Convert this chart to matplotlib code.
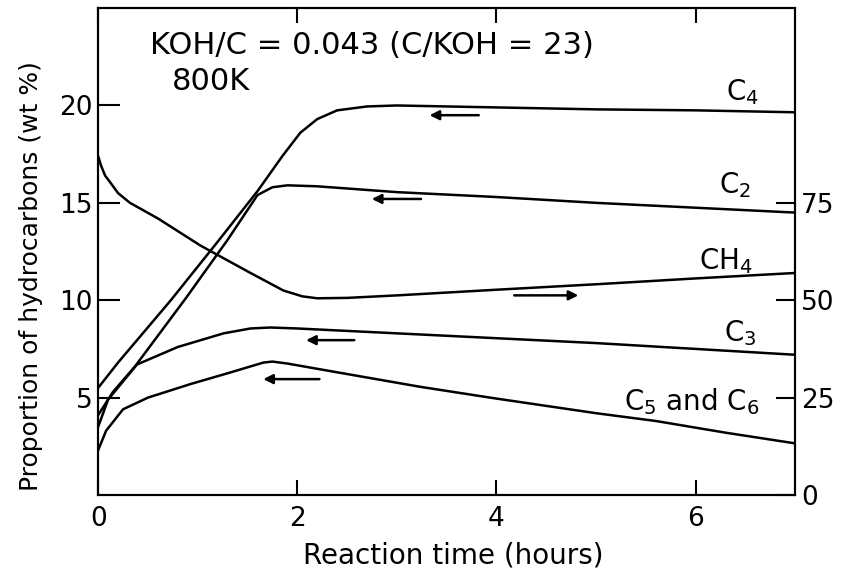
import matplotlib
matplotlib.use('Agg')
import matplotlib.pyplot as plt

# left axis in wt %, CH4 on the right axis
c4_x = [0, 0.2, 0.73, 1.2, 1.6, 1.85, 2.03, 2.2, 2.4, 2.7, 3.0, 4.0, 5.0, 6.0, 7.0]
c4_y = [5.5, 6.8, 10.0, 13.0, 15.6, 17.4, 18.6, 19.3, 19.75, 19.95, 20.0, 19.9, 19.8, 19.75, 19.65]

c2_x = [0, 0.15, 0.37, 0.88, 1.3, 1.6, 1.75, 1.9, 2.2, 3.0, 4.0, 5.0, 6.0, 7.0]
c2_y = [4.1, 5.3, 6.6, 10.1, 13.1, 15.4, 15.8, 15.9, 15.85, 15.55, 15.3, 15.0, 14.75, 14.5]

ch4_x = [0, 0.03, 0.07, 0.12, 0.2, 0.32, 0.6, 1.03, 1.53, 1.86, 2.05, 2.2, 2.5, 3.04, 4, 5, 6, 7]
ch4_y = [87, 84.5, 82, 80.3, 77.5, 75, 71, 64, 57, 52.5, 51, 50.5, 50.6, 51.3, 52.7, 54.1, 55.6, 57]

c3_x = [0, 0.1, 0.39, 0.8, 1.26, 1.53, 1.73, 2.0, 3.2, 4, 5, 6, 7]
c3_y = [3.5, 4.9, 6.7, 7.6, 8.3, 8.55, 8.6, 8.55, 8.25, 8.05, 7.8, 7.5, 7.2]

c56_x = [0, 0.08, 0.25, 0.5, 0.93, 1.3, 1.66, 1.75, 1.9, 2.4, 3.24, 4, 5, 5.6, 6.3, 7]
c56_y = [2.3, 3.3, 4.4, 5.0, 5.7, 6.25, 6.8, 6.85, 6.75, 6.3, 5.55, 4.95, 4.2, 3.8, 3.2, 2.65]

left_ticks = [5, 10, 15, 20]
right_ticks = [0, 25, 50, 75]
x_ticks = [0, 2, 4, 6]

plt.rcParams['font.family'] = 'DejaVu Sans'

fig = plt.figure(figsize=(8.46, 5.78), dpi=100)
ax = fig.add_axes([0.116, 0.1436, 0.824, 0.8424])
ax2 = ax.twinx()

lw = 1.8
ax.plot(c4_x, c4_y, color='black', lw=lw)
ax.plot(c2_x, c2_y, color='black', lw=lw)
ax.plot(c3_x, c3_y, color='black', lw=lw)
ax.plot(c56_x, c56_y, color='black', lw=lw)
ax2.plot(ch4_x, ch4_y, color='black', lw=lw)

ax.set_xlim(0, 7)
ax.set_ylim(0, 25)
ax2.set_ylim(0, 125)

ax.set_xticks(x_ticks)
ax.set_yticks(left_ticks)
ax2.set_yticks(right_ticks)

ax.tick_params(axis='y', direction='in', length=16, width=1.5, labelsize=19, pad=4)
ax.tick_params(axis='x', direction='in', length=11, width=1.5, labelsize=19, pad=8, top=True)
ax2.tick_params(axis='y', direction='in', length=14, width=1.5, labelsize=19, pad=4)

for a in (ax, ax2):
    for s in a.spines.values():
        s.set_linewidth(1.5)

ax.set_xlabel('Reaction time (hours)', fontsize=20)
ax.xaxis.set_label_coords(0.51, -0.095)
ax.set_ylabel('Proportion of hydrocarbons (wt %)', fontsize=18)
ax.yaxis.set_label_coords(-0.079, 0.45)

# arrows point at the axis each curve belongs to
arrow = dict(arrowstyle='-|>', color='black', lw=1.8, mutation_scale=14)
ax.annotate('', xy=(3.3, 19.5), xytext=(3.85, 19.5), arrowprops=arrow)
ax.annotate('', xy=(2.72, 15.2), xytext=(3.27, 15.2), arrowprops=arrow)
ax.annotate('', xy=(4.85, 10.25), xytext=(4.15, 10.25), arrowprops=arrow)
ax.annotate('', xy=(2.06, 7.95), xytext=(2.6, 7.95), arrowprops=arrow)
ax.annotate('', xy=(1.63, 5.95), xytext=(2.25, 5.95), arrowprops=arrow)

ax.text(6.47, 20.7, 'C$_4$', fontsize=20, ha='center', va='center')
ax.text(6.4, 15.9, 'C$_2$', fontsize=20, ha='center', va='center')
ax.text(6.3, 12.0, 'CH$_4$', fontsize=20, ha='center', va='center')
ax.text(6.45, 8.3, 'C$_3$', fontsize=20, ha='center', va='center')
ax.text(5.96, 4.8, 'C$_5$ and C$_6$', fontsize=20, ha='center', va='center')

ax.text(0.075, 0.924, 'KOH/C = 0.043 (C/KOH = 23)', transform=ax.transAxes,
        fontsize=22, ha='left', va='center')
ax.text(0.106, 0.85, '800K', transform=ax.transAxes, fontsize=22, ha='left', va='center')

fig.savefig('out.png', dpi=100)
